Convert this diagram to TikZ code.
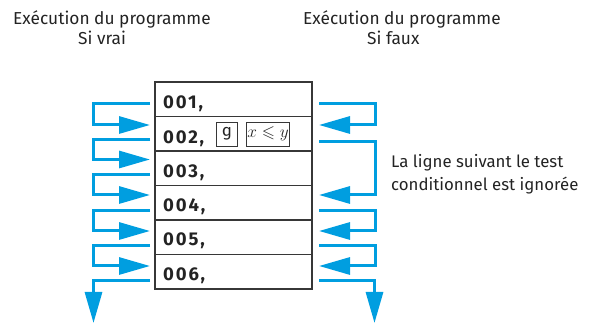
\documentclass[tikz,border=0pt]{standalone}
\usepackage[no-math]{fontspec}
\setmainfont{Fira Sans}
\newfontfamily\gfont[RawFeature=+salt]{Fira Sans}
\newcommand\sg{{\gfont g}}
\usepackage{amsmath,amssymb}
\usetikzlibrary{arrows.meta}
\definecolor{flow}{RGB}{0,158,224}
\definecolor{gridc}{RGB}{55,55,55}
\definecolor{txt}{RGB}{35,35,35}
\newfontfamily\rowfont[LetterSpace=10]{Fira Sans}
\begin{document}
\begin{tikzpicture}[x=1pt,y=-1pt,
  rowbox/.style={draw=gridc, line width=1.3pt, minimum width=157pt, minimum height=34.5pt, inner sep=0pt, outer sep=0pt, anchor=north west},
  rowtext/.style={inner sep=0pt, anchor=base west, font=\rowfont\bfseries\fontsize{18.5}{20}\selectfont, text=txt},
  keybox/.style={draw=gridc, line width=0.8pt, minimum height=24pt, inner sep=0pt, text=txt},
  lab/.style={inner sep=0pt, anchor=base west, font=\fontsize{17.3}{20}\selectfont, text=txt},
  note/.style={inner sep=0pt, anchor=base west, font=\fontsize{16.8}{20}\selectfont, text=txt},
  flowline/.style={draw=flow, line width=3pt},
  flowarrow/.style={flowline, -{Triangle[length=31pt,width=17pt]}}]
\useasboundingbox (0,0) rectangle (590,323);

% top labels
\node[lab] (h1) at (13,25) {Exécution du pro\sg ramme};
\node[lab] (h2) at (78,45) {Si vrai};
\node[lab] (h3) at (303,25) {Exécution du pro\sg ramme};
\node[lab] (h4) at (367,45) {Si faux};
\node[note] (n1) at (391,168) {La li\sg ne suivant le test};
\node[note] (n2) at (391,191) {conditionnel est i\sg norée};

% program rows
\node[rowbox] (r1) at (155,82) {};
\node[rowbox] (r2) at (155,116.5) {};
\node[rowbox] (r3) at (155,151) {};
\node[rowbox] (r4) at (155,185.5) {};
\node[rowbox] (r5) at (155,220) {};
\node[rowbox] (r6) at (155,254.5) {};
\node[rowtext] (t1) at (163,109) {001,};
\node[rowtext] (t2) at (163,144) {002,};
\node[rowtext] (t3) at (163,178) {003,};
\node[rowtext] (t4) at (163,211.5) {004,};
\node[rowtext] (t5) at (163,246) {005,};
\node[rowtext] (t6) at (163,280.5) {006,};
\node[keybox, minimum width=21pt, font=\fontsize{17}{18}\selectfont] (kg) at (227,134) {\sg};
\node[keybox, minimum width=43pt, font=\fontsize{17}{18}\selectfont] (kx) at (268,134) {$x\leqslant y$};

% left-side flow (Si vrai)
\coordinate (lx) at (93.5,0);
\coordinate (L1o) at (150,104);   \coordinate (L2i) at (150,125);
\coordinate (L2o) at (150,139.5); \coordinate (L3i) at (150,159.5);
\coordinate (L3o) at (150,175);   \coordinate (L4i) at (150,195);
\coordinate (L4o) at (150,210.5); \coordinate (L5i) at (150,231);
\coordinate (L5o) at (150,245.5); \coordinate (L6i) at (150,266);
\coordinate (L6o) at (150,281);   \coordinate (Lend) at (93.5,323);
\draw[flowarrow] (L1o) -- (lx |- L1o) -- (lx |- L2i) -- (L2i);
\draw[flowarrow] (L2o) -- (lx |- L2o) -- (lx |- L3i) -- (L3i);
\draw[flowarrow] (L3o) -- (lx |- L3o) -- (lx |- L4i) -- (L4i);
\draw[flowarrow] (L4o) -- (lx |- L4o) -- (lx |- L5i) -- (L5i);
\draw[flowarrow] (L5o) -- (lx |- L5o) -- (lx |- L6i) -- (L6i);
\draw[flowarrow] (L6o) -- (lx |- L6o) -- (Lend);

% right-side flow (Si faux)
\coordinate (rx) at (375.5,0);
\coordinate (R1o) at (319,104);   \coordinate (R2i) at (319,125);
\coordinate (R2o) at (319,142);   \coordinate (R4i) at (319,195);
\coordinate (R4o) at (319,210.5); \coordinate (R5i) at (319,231);
\coordinate (R5o) at (319,245.5); \coordinate (R6i) at (319,266);
\coordinate (R6o) at (319,281);   \coordinate (Rend) at (374.5,323);
\draw[flowarrow] (R1o) -- (rx |- R1o) -- (rx |- R2i) -- (R2i);
\draw[flowarrow] (R2o) -- (rx |- R2o) -- (rx |- R4i) -- (R4i);
\draw[flowarrow] (R4o) -- (rx |- R4o) -- (rx |- R5i) -- (R5i);
\draw[flowarrow] (R5o) -- (rx |- R5o) -- (rx |- R6i) -- (R6i);
\draw[flowarrow] (R6o) -- (Rend |- R6o) -- (Rend);
\end{tikzpicture}
\end{document}
